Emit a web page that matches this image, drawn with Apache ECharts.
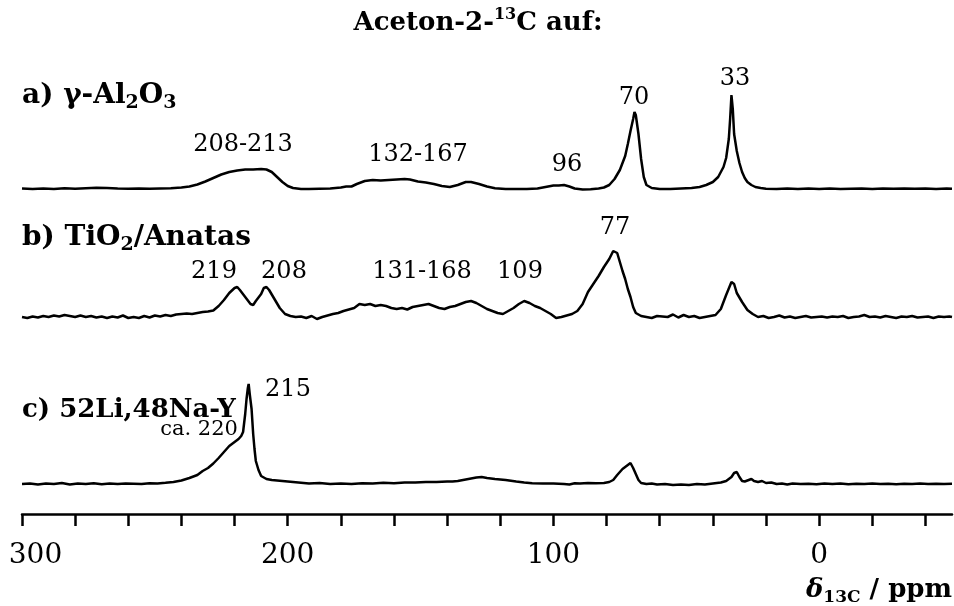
<!DOCTYPE html>
<html>
<head>
<meta charset="utf-8">
<script src="https://cdn.jsdelivr.net/npm/echarts@6/dist/echarts.min.js"></script>
<style>html,body{margin:0;padding:0;background:#fff}#c{width:954px;height:606px}</style>
</head>
<body>
<div id="c"></div>
<script>
// ---- data (ppm vs. intensity, arbitrary units) ----
const aPpm = [300,296,292,288,284,280,276,272,268,264,260,256,252,248,244,240,237,234,231,228,225,222,219,216,213,210,208,206,204,202,200,198,195,192,188,184,180,178,176,174,171,168,165,162,159,156,154,151,148,145,142,139,136,133,131,128,125,122,118,114,110,106,103,100,98,96,94,92,89,86,83,81,79,77,75,73,72,71,70,69.5,69,68,67,66,65,63,60,56,52,48,45,42.5,40,38,36,35,34,33.5,33,32.5,32,31,30,29,28,27,25.5,24,22,20,16,12,8,4,0,-4,-8,-12,-16,-20,-24,-28,-32,-36,-40,-44,-48,-50];
const aInt = [0.5,0,0.5,0,0.8,0.3,0.8,1.2,1,0.5,0.3,0.5,0.2,0.5,0.8,1.5,2.5,4.5,7.5,11,14.5,17,18.5,19.5,19.5,20,19.5,17,12,7,3,1,0,0,0.3,0.5,1.5,2.5,2.5,5,8,9,8.5,9,9.5,10,9.5,7.5,6.5,5,3,2,4,7,7,5,2.5,0.8,0,0,0,0.5,2,3.5,3.5,4,2.5,0.5,-0.5,-0.3,0.5,1.5,4,10,19,33,45,58,70,77,74,55,30,12,4,1,0,0,0.5,1,2,4,7,12,22,31,50,70,94,80,55,38,26,17,11,7,4,2,1,0.3,0,0.4,0,0.5,0,0.5,0,0.3,0.5,0,0.6,0.2,0.6,0.2,0.5,0.1,0.4,0.3];

const bPpm = [300,298,296,294,292,290,288,286,284,282,280,278,276,274,272,270,268,266,264,262,260,258,256,254,252,250,248,246,244,242,240,238,236,234,232,230,228,226,224,222,220,219,218,216,214,213,212,210,209,208,207,205,203,201,199,197,195,193,191,189,187,185,183,181,179,177,175,173,171,169,167,165,163,161,159,157,155,153,151,149,147,145,143,141,139,137,135,133,131,129,127,125,123,121,119,117,115,113,111,109,107,105,103,101,99,97,95,93,91,89,87,85,83,81,79,77.5,77,76,75,74,73,72,71,70,69,67,65,63,61,59,57,55,53,51,49,47,45,43,41,39,37,35,33,32,31,29,27,25,23,21,19,17,15,13,11,9,7,5,3,1,-1,-3,-5,-7,-9,-11,-13,-15,-17,-19,-21,-23,-25,-27,-29,-31,-33,-35,-37,-39,-41,-43,-45,-47,-49,-50];
const bInt = [0,-1,0.5,-0.5,1,0,1.5,0.5,2,1,0,1.5,0,1,-0.5,0.5,-1,0.5,-0.5,1.5,-1,0,-1,1,-0.5,1.5,0.5,2,1,2.5,3,3.5,3,4,5,5.5,6.5,11,17,24,29,30,27,20,13,12,16,23,29,30,27,18,9,3,1,0,0.5,-1,1,-2,0,1.5,3,4,6,7.5,9,13,12,13,11,12,11,9,8,9,7.5,10,11,12,13,11,9,8,10,11,13,15,16,14,11,8,6,4,3,6,9,13,16,14,11,9,6,3,-1,0,1.5,3,6,13,25,33,41,50,58,66,67,64,55,46,38,28,20,10,4,1,0,-1,1,0.5,0,2.5,-0.5,2,0,1,-1,0,1,2,8,22,35,33,24,15,7,3,0,1,-1,0,1.5,-0.5,0.5,-1,0,1,-0.5,0,0.5,-0.5,0.5,0,1,-1,0,0.5,2,0,0.5,-0.5,1,0,-1,0.5,0,1,-0.5,0,0.5,-1,0.5,0,0.5,0];

const cPpm = [300,297,294,291,288,285,282,279,276,273,270,267,264,261,258,255,252,249,246,243,240,237,234,232,230,228,226,224,222,220,218.5,217.5,216.8,216,215.5,215,214.7,214.3,213.6,213,212.5,212,211,210,208,206,204,200,196,192,188,184,180,176,172,168,164,160,156,152,148,144,140,138,136,132,129,127,125,122,118,114,111,108,104,100,96,94,92,90,87,84,81,79,77.5,76,74,72.5,71,70,69,68,67,65,63,61,58,55,52,49,46,43,40,37,35,33,32,31,30,29,28,26.5,25.5,24.5,23,21.5,20,18,16,14,12,10,7,4,1,-2,-5,-8,-11,-14,-17,-20,-23,-26,-29,-32,-35,-38,-41,-44,-47,-50];
const cInt = [0,0.5,-0.5,0.5,0,1,-0.5,0.5,0,0.8,-0.3,0.5,0,0.5,0.3,0,0.8,0.5,1.2,2,3.5,6,9,13,16,20.5,26,32,38,42,45,48,52,70,85,96,100,90,75,50,35,23,14,8,5,4,3.5,2.5,1.5,0.5,1,0,0.5,0,0.8,0.5,1.2,0.8,1.5,1.5,2,2,2.5,2.5,3,5,6.5,7,6,5,4,2.5,1.5,0.8,0.5,0.5,0,-0.5,0.8,0.5,1,0.8,1,2,4,9,15,18,21,16,10,4,1,0,0.5,-0.5,0,-1,-0.5,-1,0,-0.5,0.5,1.5,3,7,11,12,7,3,2.5,4,5,3,2,3,1,1.5,0,0.5,-0.5,0.5,0,0.3,-0.3,0.5,0,0.5,-0.3,0.3,0,0.5,0,0.3,-0.3,0.3,0,0.5,0,0.3,0,0.3];

const xTicks = [300,280,260,240,220,200,180,160,140,120,100,80,60,40,20,0,-20,-40];
const xTickLabels = [300,200,100,0];

// ---- layout / style ----
const OFF_A = 325, OFF_B = 197, OFF_C = 30;
const SERIF = '"DejaVu Serif", serif';

function build(ppm, inten, off) { return ppm.map((p, i) => [p, inten[i] + off]); }

const chart = echarts.init(document.getElementById('c'), null, {renderer: 'canvas'});

function txt(x, y, text, size, bold, align, rich) {
  return {
    type: 'text', x: x, y: y, silent: true,
    style: {
      text: text, fill: '#000', font: (bold ? 'bold ' : '') + size + 'px ' + SERIF,
      fontFamily: SERIF, fontSize: size, fontWeight: bold ? 'bold' : 'normal',
      align: align || 'center', textAlign: align || 'center',
      verticalAlign: 'middle', textVerticalAlign: 'middle',
      rich: rich || undefined
    }
  };
}

const subRich = (size, bold, r) => {
  const s = Math.round(size * (r || 0.68));
  const w = bold ? 'bold' : 'normal';
  return {
    m: {fontFamily: SERIF, fontSize: size, fontWeight: w, lineHeight: size + 6, fill: '#000'},
    sub: {fontFamily: SERIF, fontSize: s, fontWeight: w, lineHeight: s, verticalAlign: 'bottom', fill: '#000'},
    sup: {fontFamily: SERIF, fontSize: s, fontWeight: w, lineHeight: s, verticalAlign: 'top', fill: '#000'},
    it: {fontFamily: SERIF, fontSize: size, fontWeight: w, fontStyle: 'italic', lineHeight: size + 6, fill: '#000'}
  };
};

const option = {
  animation: false,
  backgroundColor: '#fff',
  grid: {left: 22, right: 2, top: 0, bottom: 92, containLabel: false, outerBoundsMode: 'none'},
  xAxis: {
    type: 'value', inverse: true, min: -50, max: 300,
    axisLine: {show: true, lineStyle: {color: '#000', width: 2.5}},
    axisTick: {show: true, length: 12, lineStyle: {color: '#000', width: 2.5}, customValues: xTicks},
    axisLabel: {
      show: true, customValues: xTickLabels, color: '#000', fontSize: 28, fontFamily: SERIF, margin: 28, hideOverlap: false,
      formatter: function (v) { return v === 300 ? '{edge|' + v + '}' : String(v); },
      rich: {edge: {fontSize: 28, fontFamily: SERIF, color: '#000', padding: [0, 0, 0, 27]}}
    },
    splitLine: {show: false}
  },
  yAxis: {type: 'value', min: 0, max: 514, show: false, splitLine: {show: false}},
  series: [
    {type: 'line', data: build(aPpm, aInt, OFF_A), showSymbol: false, lineStyle: {color: '#000', width: 2.5}, silent: true},
    {type: 'line', data: build(bPpm, bInt, OFF_B), showSymbol: false, lineStyle: {color: '#000', width: 2.5}, silent: true},
    {type: 'line', data: build(cPpm, cInt, OFF_C), showSymbol: false, lineStyle: {color: '#000', width: 2.5}, silent: true}
  ],
  graphic: [
    txt(478, 23, '{m|Aceton-2-}{sup|13}{m|C auf:}', 26, true, 'center', subRich(26, true, 0.62)),
    txt(22, 96, '{m|a) γ-Al}{sub|2}{m|O}{sub|3}', 28, true, 'left', subRich(28, true)),
    txt(22, 238, '{m|b) TiO}{sub|2}{m|/Anatas}', 28, true, 'left', subRich(28, true)),
    txt(22, 410, '{m|c) 52Li,48Na-Y}', 26, true, 'left', subRich(26, true)),
    txt(243, 145, '208-213', 24, false),
    txt(418, 155, '132-167', 24, false),
    txt(567, 165, '96', 24, false),
    txt(634, 98, '70', 24, false),
    txt(735, 79, '33', 24, false),
    txt(214, 272, '219', 24, false),
    txt(284, 272, '208', 24, false),
    txt(422, 272, '131-168', 24, false),
    txt(520, 272, '109', 24, false),
    txt(615, 228, '77', 24, false),
    txt(288, 390, '215', 24, false),
    txt(199, 430, 'ca. 220', 21, false),
    txt(952, 590, '{it|δ}{sub|13C}{m| / ppm}', 26, true, 'right', subRich(26, true, 0.65))
  ]
};
chart.setOption(option);
</script>
</body>
</html>
